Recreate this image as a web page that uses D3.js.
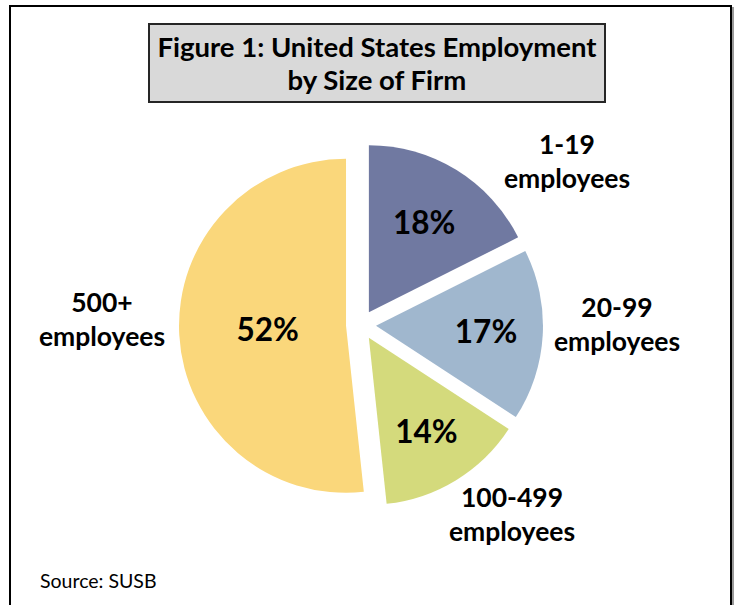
<!DOCTYPE html>
<html>
<head>
<meta charset="utf-8">
<script src="https://cdn.jsdelivr.net/npm/d3@7"></script>
<style>
  html, body { margin: 0; padding: 0; background: #ffffff; }
  svg { display: block; }
  text { font-family: Lato, "Open Sans", sans-serif; fill: #000; }
</style>
</head>
<body>
<svg id="chart" width="736" height="605"></svg>
<script>
// ---- Data ----
const categories = ["1-19", "20-99", "100-499", "500+"];
const categorySuffix = ["employees", "employees", "employees", "employees"];
const values = [17.6, 16.6, 14.1, 51.7];
const colors = ["#7079A1", "#A0B7CE", "#D4DA7C", "#FAD77B"];
const titleLines = ["Figure 1: United States Employment", "by Size of Firm"];
const sourceText = "Source: SUSB";

// ---- Layout (not data) ----
const W = 736, H = 605;
const cx = 361, cy = 325, R = 167, explode = 15;
const pctLabelFactor = [0.63, 0.66, 0.66, 0.47];
const catLabelPos = [[567, 154], [617, 317], [512, 507], [102, 312]];

const svg = d3.select("#chart");

// outer frame
svg.append("rect").attr("x", 12).attr("y", 8).attr("width", 721).attr("height", 640)
  .attr("fill", "none").attr("stroke", "#9a9a9a").attr("stroke-width", 2);
svg.append("rect").attr("x", 10).attr("y", 6).attr("width", 721).attr("height", 640)
  .attr("fill", "#ffffff").attr("stroke", "#000").attr("stroke-width", 2);

// title box
const tb = svg.append("g");
tb.append("rect").attr("x", 149).attr("y", 24).attr("width", 456).attr("height", 78)
  .attr("fill", "#D9D9D9").attr("stroke", "#262626").attr("stroke-width", 2);
tb.selectAll("text.title").data(titleLines).join("text")
  .attr("class", "title")
  .attr("x", 377).attr("y", (d, i) => 57 + i * 33)
  .attr("text-anchor", "middle")
  .style("font-weight", "bold").style("font-size", "27.5px")
  .text(d => d);

// pie
const pie = d3.pie().sort(null).value(d => d);
const arcs = pie(values);
const arc = d3.arc().innerRadius(0).outerRadius(R);

const g = svg.append("g").attr("transform", `translate(${cx},${cy})`);
const slices = g.selectAll("g.slice").data(arcs).join("g")
  .attr("class", "slice")
  .attr("transform", d => {
    const m = (d.startAngle + d.endAngle) / 2;
    return `translate(${explode * Math.sin(m)},${-explode * Math.cos(m)})`;
  });
slices.append("path").attr("d", arc).attr("fill", (d, i) => colors[i]);

const fmt = d3.format(".0f");
slices.append("text")
  .attr("x", (d, i) => { const m = (d.startAngle + d.endAngle) / 2; return R * pctLabelFactor[i] * Math.sin(m); })
  .attr("y", (d, i) => { const m = (d.startAngle + d.endAngle) / 2; return -R * pctLabelFactor[i] * Math.cos(m); })
  .attr("dy", "0.35em")
  .attr("text-anchor", "middle")
  .style("font-weight", "bold").style("font-size", "31.5px")
  .text(d => fmt(d.value) + "%");

// category labels
const cl = svg.append("g");
categories.forEach((c, i) => {
  const t = cl.append("text")
    .attr("x", catLabelPos[i][0]).attr("y", catLabelPos[i][1])
    .attr("text-anchor", "middle")
    .style("font-weight", "bold").style("font-size", "26.5px");
  t.append("tspan").attr("x", catLabelPos[i][0]).text(c);
  t.append("tspan").attr("x", catLabelPos[i][0]).attr("dy", 34).text(categorySuffix[i]);
});

// source
svg.append("text").attr("x", 40).attr("y", 588)
  .style("font-size", "19.5px").text(sourceText);
</script>
</body>
</html>
